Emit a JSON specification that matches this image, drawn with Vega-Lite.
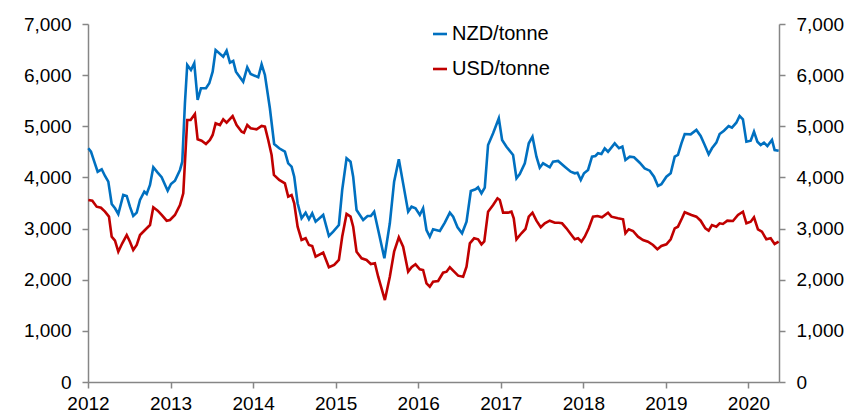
{
  "$schema": "https://vega.github.io/schema/vega-lite/v6.json",
  "width": 691,
  "height": 358,
  "autosize": "none",
  "padding": {"left": 88, "top": 24, "right": 71, "bottom": 34},
  "background": "white",
  "config": {
    "view": {"stroke": null},
    "font": "Liberation Sans",
    "axis": {"grid": false, "labelFont": "Liberation Sans", "labelFontSize": 19, "labelColor": "#000000", "domainColor": "#868686", "tickColor": "#868686", "tickSize": 6, "domainWidth": 1.5, "tickWidth": 1.5, "title": null, "labelFlush": false, "labelOverlap": false}
  },
  "data": {"values": [
    {"t":2012.004,"s":"NZD/tonne","v":4570},{"t":2012.036,"s":"NZD/tonne","v":4503},{"t":2012.076,"s":"NZD/tonne","v":4308},{"t":2012.117,"s":"NZD/tonne","v":4112},{"t":2012.166,"s":"NZD/tonne","v":4159},{"t":2012.206,"s":"NZD/tonne","v":4028},{"t":2012.246,"s":"NZD/tonne","v":3917},{"t":2012.287,"s":"NZD/tonne","v":3481},{"t":2012.327,"s":"NZD/tonne","v":3397},{"t":2012.367,"s":"NZD/tonne","v":3285},{"t":2012.427,"s":"NZD/tonne","v":3657},{"t":2012.469,"s":"NZD/tonne","v":3637},{"t":2012.508,"s":"NZD/tonne","v":3428},{"t":2012.548,"s":"NZD/tonne","v":3246},{"t":2012.59,"s":"NZD/tonne","v":3311},{"t":2012.63,"s":"NZD/tonne","v":3559},{"t":2012.682,"s":"NZD/tonne","v":3721},{"t":2012.711,"s":"NZD/tonne","v":3676},{"t":2012.751,"s":"NZD/tonne","v":3852},{"t":2012.791,"s":"NZD/tonne","v":4198},{"t":2012.844,"s":"NZD/tonne","v":4093},{"t":2012.892,"s":"NZD/tonne","v":4003},{"t":2012.965,"s":"NZD/tonne","v":3741},{"t":2013.005,"s":"NZD/tonne","v":3872},{"t":2013.053,"s":"NZD/tonne","v":3936},{"t":2013.114,"s":"NZD/tonne","v":4146},{"t":2013.142,"s":"NZD/tonne","v":4308},{"t":2013.174,"s":"NZD/tonne","v":5450},{"t":2013.202,"s":"NZD/tonne","v":6199},{"t":2013.247,"s":"NZD/tonne","v":6101},{"t":2013.287,"s":"NZD/tonne","v":6232},{"t":2013.328,"s":"NZD/tonne","v":5514},{"t":2013.368,"s":"NZD/tonne","v":5743},{"t":2013.429,"s":"NZD/tonne","v":5743},{"t":2013.469,"s":"NZD/tonne","v":5841},{"t":2013.51,"s":"NZD/tonne","v":6068},{"t":2013.546,"s":"NZD/tonne","v":6492},{"t":2013.638,"s":"NZD/tonne","v":6361},{"t":2013.679,"s":"NZD/tonne","v":6478},{"t":2013.719,"s":"NZD/tonne","v":6244},{"t":2013.759,"s":"NZD/tonne","v":6277},{"t":2013.792,"s":"NZD/tonne","v":6068},{"t":2013.88,"s":"NZD/tonne","v":5872},{"t":2013.929,"s":"NZD/tonne","v":6154},{"t":2013.97,"s":"NZD/tonne","v":6023},{"t":2014.062,"s":"NZD/tonne","v":5958},{"t":2014.103,"s":"NZD/tonne","v":6212},{"t":2014.143,"s":"NZD/tonne","v":6003},{"t":2014.203,"s":"NZD/tonne","v":5352},{"t":2014.255,"s":"NZD/tonne","v":4654},{"t":2014.316,"s":"NZD/tonne","v":4570},{"t":2014.385,"s":"NZD/tonne","v":4503},{"t":2014.425,"s":"NZD/tonne","v":4276},{"t":2014.466,"s":"NZD/tonne","v":4210},{"t":2014.498,"s":"NZD/tonne","v":4015},{"t":2014.539,"s":"NZD/tonne","v":3495},{"t":2014.587,"s":"NZD/tonne","v":3201},{"t":2014.636,"s":"NZD/tonne","v":3311},{"t":2014.676,"s":"NZD/tonne","v":3181},{"t":2014.716,"s":"NZD/tonne","v":3298},{"t":2014.757,"s":"NZD/tonne","v":3135},{"t":2014.849,"s":"NZD/tonne","v":3266},{"t":2014.918,"s":"NZD/tonne","v":2855},{"t":2014.97,"s":"NZD/tonne","v":2939},{"t":2015.039,"s":"NZD/tonne","v":3070},{"t":2015.079,"s":"NZD/tonne","v":3754},{"t":2015.132,"s":"NZD/tonne","v":4374},{"t":2015.18,"s":"NZD/tonne","v":4308},{"t":2015.212,"s":"NZD/tonne","v":4015},{"t":2015.253,"s":"NZD/tonne","v":3363},{"t":2015.333,"s":"NZD/tonne","v":3168},{"t":2015.386,"s":"NZD/tonne","v":3246},{"t":2015.426,"s":"NZD/tonne","v":3246},{"t":2015.466,"s":"NZD/tonne","v":3330},{"t":2015.515,"s":"NZD/tonne","v":2972},{"t":2015.59,"s":"NZD/tonne","v":2419},{"t":2015.656,"s":"NZD/tonne","v":3103},{"t":2015.708,"s":"NZD/tonne","v":3917},{"t":2015.765,"s":"NZD/tonne","v":4355},{"t":2015.817,"s":"NZD/tonne","v":3884},{"t":2015.878,"s":"NZD/tonne","v":3330},{"t":2015.919,"s":"NZD/tonne","v":3428},{"t":2015.967,"s":"NZD/tonne","v":3397},{"t":2016.019,"s":"NZD/tonne","v":3266},{"t":2016.059,"s":"NZD/tonne","v":3397},{"t":2016.1,"s":"NZD/tonne","v":2972},{"t":2016.14,"s":"NZD/tonne","v":2841},{"t":2016.18,"s":"NZD/tonne","v":2986},{"t":2016.262,"s":"NZD/tonne","v":2953},{"t":2016.322,"s":"NZD/tonne","v":3115},{"t":2016.383,"s":"NZD/tonne","v":3311},{"t":2016.423,"s":"NZD/tonne","v":3233},{"t":2016.476,"s":"NZD/tonne","v":3025},{"t":2016.531,"s":"NZD/tonne","v":2908},{"t":2016.585,"s":"NZD/tonne","v":3135},{"t":2016.637,"s":"NZD/tonne","v":3735},{"t":2016.694,"s":"NZD/tonne","v":3768},{"t":2016.725,"s":"NZD/tonne","v":3807},{"t":2016.766,"s":"NZD/tonne","v":3690},{"t":2016.806,"s":"NZD/tonne","v":3800},{"t":2016.846,"s":"NZD/tonne","v":4634},{"t":2016.907,"s":"NZD/tonne","v":4863},{"t":2016.976,"s":"NZD/tonne","v":5156},{"t":2017.016,"s":"NZD/tonne","v":4732},{"t":2017.069,"s":"NZD/tonne","v":4601},{"t":2017.149,"s":"NZD/tonne","v":4439},{"t":2017.19,"s":"NZD/tonne","v":3983},{"t":2017.23,"s":"NZD/tonne","v":4067},{"t":2017.291,"s":"NZD/tonne","v":4276},{"t":2017.339,"s":"NZD/tonne","v":4667},{"t":2017.384,"s":"NZD/tonne","v":4797},{"t":2017.432,"s":"NZD/tonne","v":4406},{"t":2017.472,"s":"NZD/tonne","v":4190},{"t":2017.512,"s":"NZD/tonne","v":4276},{"t":2017.565,"s":"NZD/tonne","v":4224},{"t":2017.593,"s":"NZD/tonne","v":4198},{"t":2017.633,"s":"NZD/tonne","v":4308},{"t":2017.694,"s":"NZD/tonne","v":4322},{"t":2017.775,"s":"NZD/tonne","v":4210},{"t":2017.847,"s":"NZD/tonne","v":4112},{"t":2017.896,"s":"NZD/tonne","v":4081},{"t":2017.929,"s":"NZD/tonne","v":4093},{"t":2017.969,"s":"NZD/tonne","v":3950},{"t":2018.008,"s":"NZD/tonne","v":4081},{"t":2018.057,"s":"NZD/tonne","v":4146},{"t":2018.105,"s":"NZD/tonne","v":4406},{"t":2018.146,"s":"NZD/tonne","v":4419},{"t":2018.178,"s":"NZD/tonne","v":4472},{"t":2018.219,"s":"NZD/tonne","v":4458},{"t":2018.259,"s":"NZD/tonne","v":4570},{"t":2018.299,"s":"NZD/tonne","v":4503},{"t":2018.38,"s":"NZD/tonne","v":4667},{"t":2018.432,"s":"NZD/tonne","v":4570},{"t":2018.473,"s":"NZD/tonne","v":4601},{"t":2018.51,"s":"NZD/tonne","v":4341},{"t":2018.562,"s":"NZD/tonne","v":4406},{"t":2018.614,"s":"NZD/tonne","v":4393},{"t":2018.683,"s":"NZD/tonne","v":4288},{"t":2018.743,"s":"NZD/tonne","v":4178},{"t":2018.804,"s":"NZD/tonne","v":4132},{"t":2018.856,"s":"NZD/tonne","v":4015},{"t":2018.904,"s":"NZD/tonne","v":3833},{"t":2018.945,"s":"NZD/tonne","v":3866},{"t":2019.006,"s":"NZD/tonne","v":4015},{"t":2019.058,"s":"NZD/tonne","v":4081},{"t":2019.107,"s":"NZD/tonne","v":4406},{"t":2019.146,"s":"NZD/tonne","v":4439},{"t":2019.188,"s":"NZD/tonne","v":4667},{"t":2019.228,"s":"NZD/tonne","v":4849},{"t":2019.3,"s":"NZD/tonne","v":4843},{"t":2019.369,"s":"NZD/tonne","v":4928},{"t":2019.421,"s":"NZD/tonne","v":4810},{"t":2019.47,"s":"NZD/tonne","v":4634},{"t":2019.518,"s":"NZD/tonne","v":4452},{"t":2019.558,"s":"NZD/tonne","v":4570},{"t":2019.611,"s":"NZD/tonne","v":4680},{"t":2019.651,"s":"NZD/tonne","v":4849},{"t":2019.703,"s":"NZD/tonne","v":4914},{"t":2019.76,"s":"NZD/tonne","v":5006},{"t":2019.8,"s":"NZD/tonne","v":4973},{"t":2019.853,"s":"NZD/tonne","v":5070},{"t":2019.893,"s":"NZD/tonne","v":5201},{"t":2019.933,"s":"NZD/tonne","v":5137},{"t":2019.975,"s":"NZD/tonne","v":4699},{"t":2020.027,"s":"NZD/tonne","v":4718},{"t":2020.067,"s":"NZD/tonne","v":4894},{"t":2020.108,"s":"NZD/tonne","v":4699},{"t":2020.148,"s":"NZD/tonne","v":4634},{"t":2020.188,"s":"NZD/tonne","v":4680},{"t":2020.229,"s":"NZD/tonne","v":4615},{"t":2020.285,"s":"NZD/tonne","v":4732},{"t":2020.317,"s":"NZD/tonne","v":4536},{"t":2020.366,"s":"NZD/tonne","v":4523},
    {"t":2012.004,"s":"USD/tonne","v":3559},{"t":2012.052,"s":"USD/tonne","v":3545},{"t":2012.105,"s":"USD/tonne","v":3428},{"t":2012.157,"s":"USD/tonne","v":3408},{"t":2012.206,"s":"USD/tonne","v":3330},{"t":2012.254,"s":"USD/tonne","v":3233},{"t":2012.287,"s":"USD/tonne","v":2841},{"t":2012.327,"s":"USD/tonne","v":2763},{"t":2012.367,"s":"USD/tonne","v":2548},{"t":2012.415,"s":"USD/tonne","v":2712},{"t":2012.469,"s":"USD/tonne","v":2874},{"t":2012.508,"s":"USD/tonne","v":2743},{"t":2012.548,"s":"USD/tonne","v":2581},{"t":2012.59,"s":"USD/tonne","v":2679},{"t":2012.63,"s":"USD/tonne","v":2874},{"t":2012.69,"s":"USD/tonne","v":2972},{"t":2012.751,"s":"USD/tonne","v":3070},{"t":2012.791,"s":"USD/tonne","v":3416},{"t":2012.844,"s":"USD/tonne","v":3350},{"t":2012.892,"s":"USD/tonne","v":3266},{"t":2012.953,"s":"USD/tonne","v":3154},{"t":2012.993,"s":"USD/tonne","v":3168},{"t":2013.053,"s":"USD/tonne","v":3266},{"t":2013.114,"s":"USD/tonne","v":3461},{"t":2013.154,"s":"USD/tonne","v":3690},{"t":2013.202,"s":"USD/tonne","v":5123},{"t":2013.243,"s":"USD/tonne","v":5123},{"t":2013.295,"s":"USD/tonne","v":5240},{"t":2013.328,"s":"USD/tonne","v":4746},{"t":2013.376,"s":"USD/tonne","v":4718},{"t":2013.429,"s":"USD/tonne","v":4654},{"t":2013.477,"s":"USD/tonne","v":4732},{"t":2013.51,"s":"USD/tonne","v":4830},{"t":2013.546,"s":"USD/tonne","v":5058},{"t":2013.598,"s":"USD/tonne","v":5025},{"t":2013.638,"s":"USD/tonne","v":5137},{"t":2013.679,"s":"USD/tonne","v":5070},{"t":2013.752,"s":"USD/tonne","v":5201},{"t":2013.8,"s":"USD/tonne","v":5025},{"t":2013.861,"s":"USD/tonne","v":4894},{"t":2013.889,"s":"USD/tonne","v":4875},{"t":2013.929,"s":"USD/tonne","v":5025},{"t":2013.97,"s":"USD/tonne","v":4961},{"t":2014.042,"s":"USD/tonne","v":4941},{"t":2014.103,"s":"USD/tonne","v":5006},{"t":2014.143,"s":"USD/tonne","v":4992},{"t":2014.183,"s":"USD/tonne","v":4732},{"t":2014.224,"s":"USD/tonne","v":4439},{"t":2014.252,"s":"USD/tonne","v":4048},{"t":2014.316,"s":"USD/tonne","v":3950},{"t":2014.385,"s":"USD/tonne","v":3884},{"t":2014.425,"s":"USD/tonne","v":3624},{"t":2014.466,"s":"USD/tonne","v":3657},{"t":2014.498,"s":"USD/tonne","v":3495},{"t":2014.539,"s":"USD/tonne","v":3037},{"t":2014.587,"s":"USD/tonne","v":2777},{"t":2014.636,"s":"USD/tonne","v":2810},{"t":2014.676,"s":"USD/tonne","v":2679},{"t":2014.716,"s":"USD/tonne","v":2659},{"t":2014.757,"s":"USD/tonne","v":2450},{"t":2014.849,"s":"USD/tonne","v":2529},{"t":2014.918,"s":"USD/tonne","v":2243},{"t":2014.982,"s":"USD/tonne","v":2288},{"t":2015.039,"s":"USD/tonne","v":2386},{"t":2015.079,"s":"USD/tonne","v":2841},{"t":2015.132,"s":"USD/tonne","v":3285},{"t":2015.18,"s":"USD/tonne","v":3233},{"t":2015.212,"s":"USD/tonne","v":3037},{"t":2015.253,"s":"USD/tonne","v":2548},{"t":2015.314,"s":"USD/tonne","v":2419},{"t":2015.374,"s":"USD/tonne","v":2386},{"t":2015.426,"s":"USD/tonne","v":2307},{"t":2015.475,"s":"USD/tonne","v":2321},{"t":2015.515,"s":"USD/tonne","v":2059},{"t":2015.596,"s":"USD/tonne","v":1603},{"t":2015.656,"s":"USD/tonne","v":2059},{"t":2015.708,"s":"USD/tonne","v":2548},{"t":2015.765,"s":"USD/tonne","v":2829},{"t":2015.817,"s":"USD/tonne","v":2646},{"t":2015.878,"s":"USD/tonne","v":2157},{"t":2015.919,"s":"USD/tonne","v":2243},{"t":2015.967,"s":"USD/tonne","v":2301},{"t":2016.019,"s":"USD/tonne","v":2203},{"t":2016.059,"s":"USD/tonne","v":2190},{"t":2016.1,"s":"USD/tonne","v":1930},{"t":2016.14,"s":"USD/tonne","v":1864},{"t":2016.18,"s":"USD/tonne","v":1961},{"t":2016.241,"s":"USD/tonne","v":1975},{"t":2016.301,"s":"USD/tonne","v":2137},{"t":2016.343,"s":"USD/tonne","v":2157},{"t":2016.383,"s":"USD/tonne","v":2243},{"t":2016.435,"s":"USD/tonne","v":2157},{"t":2016.483,"s":"USD/tonne","v":2079},{"t":2016.544,"s":"USD/tonne","v":2059},{"t":2016.585,"s":"USD/tonne","v":2255},{"t":2016.625,"s":"USD/tonne","v":2712},{"t":2016.677,"s":"USD/tonne","v":2810},{"t":2016.725,"s":"USD/tonne","v":2790},{"t":2016.766,"s":"USD/tonne","v":2692},{"t":2016.8,"s":"USD/tonne","v":2750},{"t":2016.846,"s":"USD/tonne","v":3330},{"t":2016.907,"s":"USD/tonne","v":3461},{"t":2016.96,"s":"USD/tonne","v":3592},{"t":2016.988,"s":"USD/tonne","v":3559},{"t":2017.028,"s":"USD/tonne","v":3311},{"t":2017.088,"s":"USD/tonne","v":3311},{"t":2017.129,"s":"USD/tonne","v":3330},{"t":2017.157,"s":"USD/tonne","v":3201},{"t":2017.19,"s":"USD/tonne","v":2790},{"t":2017.25,"s":"USD/tonne","v":2908},{"t":2017.299,"s":"USD/tonne","v":2992},{"t":2017.339,"s":"USD/tonne","v":3233},{"t":2017.384,"s":"USD/tonne","v":3311},{"t":2017.432,"s":"USD/tonne","v":3154},{"t":2017.484,"s":"USD/tonne","v":3025},{"t":2017.533,"s":"USD/tonne","v":3103},{"t":2017.593,"s":"USD/tonne","v":3154},{"t":2017.654,"s":"USD/tonne","v":3115},{"t":2017.702,"s":"USD/tonne","v":3115},{"t":2017.742,"s":"USD/tonne","v":3103},{"t":2017.795,"s":"USD/tonne","v":3005},{"t":2017.847,"s":"USD/tonne","v":2894},{"t":2017.896,"s":"USD/tonne","v":2790},{"t":2017.936,"s":"USD/tonne","v":2810},{"t":2017.977,"s":"USD/tonne","v":2743},{"t":2018.017,"s":"USD/tonne","v":2841},{"t":2018.065,"s":"USD/tonne","v":3005},{"t":2018.117,"s":"USD/tonne","v":3233},{"t":2018.171,"s":"USD/tonne","v":3246},{"t":2018.226,"s":"USD/tonne","v":3220},{"t":2018.299,"s":"USD/tonne","v":3311},{"t":2018.34,"s":"USD/tonne","v":3233},{"t":2018.42,"s":"USD/tonne","v":3201},{"t":2018.481,"s":"USD/tonne","v":3181},{"t":2018.51,"s":"USD/tonne","v":2908},{"t":2018.55,"s":"USD/tonne","v":2986},{"t":2018.602,"s":"USD/tonne","v":2953},{"t":2018.662,"s":"USD/tonne","v":2841},{"t":2018.723,"s":"USD/tonne","v":2777},{"t":2018.783,"s":"USD/tonne","v":2743},{"t":2018.844,"s":"USD/tonne","v":2679},{"t":2018.897,"s":"USD/tonne","v":2595},{"t":2018.945,"s":"USD/tonne","v":2659},{"t":2019.006,"s":"USD/tonne","v":2692},{"t":2019.058,"s":"USD/tonne","v":2790},{"t":2019.107,"s":"USD/tonne","v":3005},{"t":2019.146,"s":"USD/tonne","v":3037},{"t":2019.195,"s":"USD/tonne","v":3201},{"t":2019.228,"s":"USD/tonne","v":3320},{"t":2019.309,"s":"USD/tonne","v":3266},{"t":2019.369,"s":"USD/tonne","v":3233},{"t":2019.421,"s":"USD/tonne","v":3154},{"t":2019.478,"s":"USD/tonne","v":3005},{"t":2019.518,"s":"USD/tonne","v":2959},{"t":2019.558,"s":"USD/tonne","v":3070},{"t":2019.611,"s":"USD/tonne","v":3037},{"t":2019.651,"s":"USD/tonne","v":3103},{"t":2019.691,"s":"USD/tonne","v":3090},{"t":2019.744,"s":"USD/tonne","v":3154},{"t":2019.812,"s":"USD/tonne","v":3148},{"t":2019.873,"s":"USD/tonne","v":3266},{"t":2019.933,"s":"USD/tonne","v":3330},{"t":2019.975,"s":"USD/tonne","v":3103},{"t":2020.027,"s":"USD/tonne","v":3135},{"t":2020.067,"s":"USD/tonne","v":3220},{"t":2020.115,"s":"USD/tonne","v":2986},{"t":2020.163,"s":"USD/tonne","v":2939},{"t":2020.217,"s":"USD/tonne","v":2790},{"t":2020.269,"s":"USD/tonne","v":2810},{"t":2020.317,"s":"USD/tonne","v":2699},{"t":2020.366,"s":"USD/tonne","v":2743}
  ]},
  "layer": [
    {
      "mark": {"type": "line", "strokeWidth": 2.6},
      "encoding": {
        "x": {"field": "t", "type": "quantitative", "scale": {"domain": [2012, 2020.37], "nice": false, "zero": false}, "axis": {"values": [2012, 2013, 2014, 2015, 2016, 2017, 2018, 2019, 2020], "format": "d", "labelPadding": 6, "title": null}},
        "y": {"field": "v", "type": "quantitative", "scale": {"domain": [0, 7000], "nice": false}, "axis": {"orient": "left", "values": [0, 1000, 2000, 3000, 4000, 5000, 6000, 7000], "format": ",.0f", "labelPadding": 11, "title": null}},
        "color": {"field": "s", "type": "nominal", "scale": {"domain": ["NZD/tonne", "USD/tonne"], "range": ["#0070C0", "#C00000"]},
          "legend": {"orient": "none", "legendX": 342, "legendY": 0, "title": null, "symbolType": "stroke", "symbolSize": 196, "symbolStrokeWidth": 2.6, "labelFontSize": 20, "labelFont": "Liberation Sans", "labelColor": "#000000", "labelOffset": 2, "rowPadding": 15, "padding": 0}}
      }
    },
    {
      "mark": {"type": "line", "opacity": 0},
      "encoding": {
        "x": {"field": "t", "type": "quantitative"},
        "y": {"field": "v", "type": "quantitative", "scale": {"domain": [0, 7000], "nice": false}, "axis": {"orient": "right", "values": [0, 1000, 2000, 3000, 4000, 5000, 6000, 7000], "format": ",.0f", "labelPadding": 11, "title": null}},
        "detail": {"field": "s", "type": "nominal"}
      }
    }
  ],
  "resolve": {"scale": {"y": "independent"}}
}
